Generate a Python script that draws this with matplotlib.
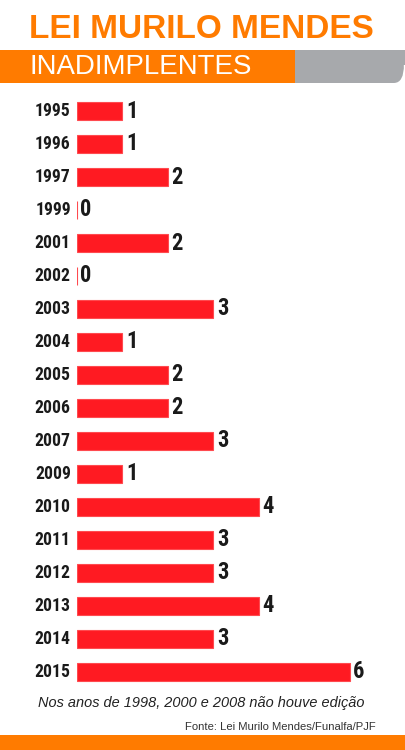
import matplotlib
matplotlib.use('Agg')
import matplotlib.pyplot as plt
from matplotlib import font_manager
from matplotlib.patches import Rectangle, FancyBboxPatch

years = ['1995', '1996', '1997', '1999', '2001', '2002', '2003', '2004', '2005',
         '2006', '2007', '2009', '2010', '2011', '2012', '2013', '2014', '2015']
inadimplentes = [1, 1, 2, 0, 2, 0, 3, 1, 2, 2, 3, 1, 4, 3, 3, 4, 3, 6]

title = 'LEI MURILO MENDES'
subtitle = 'INADIMPLENTES'
note = 'Nos anos de 1998, 2000 e 2008 não houve edição'
source = 'Fonte: Lei Murilo Mendes/Funalfa/PJF'

ORANGE = '#ff7b00'
GREY = '#a7a9ac'
RED = '#ff1a22'

installed = {f.name for f in font_manager.fontManager.ttflist}


def pick(*cands):
    for c in cands:
        if c in installed:
            return c
    return 'DejaVu Sans'


NARROW = pick('Roboto Condensed', 'Archivo Narrow', 'Liberation Sans Narrow',
              'PT Sans Narrow', 'Barlow Semi Condensed', 'Roboto')
SANS = pick('Liberation Sans', 'Roboto')

W, H = 405, 750
fig = plt.figure(figsize=(W / 100, H / 100), dpi=100)
fig.patch.set_facecolor('white')
renderer = fig.canvas.get_renderer()


def fx(px):
    return px / W


def fy(py):
    # pixels measured from the top
    return 1 - py / H


def fit(t, width_px):
    w = t.get_window_extent(renderer).width
    t.set_fontsize(t.get_fontsize() * width_px / w)


# header
t = fig.text(fx(29), fy(29.5), title, color=ORANGE, fontsize=23.5, fontweight='bold',
             family=SANS, va='center', ha='left')
fit(t, 344)
fig.patches.append(Rectangle((0, fy(83)), fx(295), fy(50) - fy(83),
                             transform=fig.transFigure, color=ORANGE, lw=0))
fig.patches.append(FancyBboxPatch((fx(295), fy(83)), fx(109), fy(50) - fy(83),
                                  boxstyle='round,pad=0,rounding_size=0.025',
                                  transform=fig.transFigure, color=GREY, lw=0))
fig.patches.append(Rectangle((fx(295), fy(83)), fx(60), fy(50) - fy(83),
                             transform=fig.transFigure, color=GREY, lw=0))
fig.patches.append(Rectangle((fx(295), fy(65)), fx(110), fy(50) - fy(65),
                             transform=fig.transFigure, color=GREY, lw=0))
t = fig.text(fx(29), fy(67.5), subtitle, color='white', fontsize=19,
             family=SANS, va='center', ha='left')
fit(t, 222)

# bars
unit = 45.5
ax_left, ax_right = 76.7, 400
ax_top, ax_bottom = 90, 690
ax = fig.add_axes([fx(ax_left), fy(ax_bottom), fx(ax_right - ax_left), fy(ax_top) - fy(ax_bottom)])
ax.set_xlim(0, (ax_right - ax_left) / unit)
ax.set_ylim((ax_bottom - 111) / 33, (ax_top - 111) / 33)
ax.axis('off')

pos = list(range(len(years)))
ax.barh(pos, inadimplentes, height=0.53, color=RED, edgecolor='#ff4a4f', linewidth=0.8)

probe = fig.text(0, 0, '1995', fontsize=13.5, fontweight='heavy', family=NARROW)
fit(probe, 36)
year_size = probe.get_fontsize()
probe.remove()
probe = fig.text(0, 0, '0', fontsize=15, fontweight='heavy', family=NARROW)
fit(probe, 11.5)
val_size = probe.get_fontsize()
probe.remove()

for i, (y, v) in enumerate(zip(years, inadimplentes)):
    ax.text(-0.13, i, y, ha='right', va='center', fontsize=year_size, fontweight='heavy',
            family=NARROW, color='#1a1a1a')
    ax.text(v + 0.08, i, str(v), ha='left', va='center', fontsize=val_size, fontweight='heavy',
            family=NARROW, color='#1a1a1a')

# footer
t = fig.text(fx(201), fy(703.5), note, style='italic', fontsize=11, color='#222222',
             family=SANS, ha='center', va='center')
fit(t, 325)
t = fig.text(fx(376), fy(727), source, fontsize=8.5, color='#333333',
             family=SANS, ha='right', va='center')
fit(t, 191)
fig.patches.append(Rectangle((0, 0), 1, fy(735), transform=fig.transFigure,
                             color=ORANGE, lw=0))

fig.savefig('out.png', dpi=100)
